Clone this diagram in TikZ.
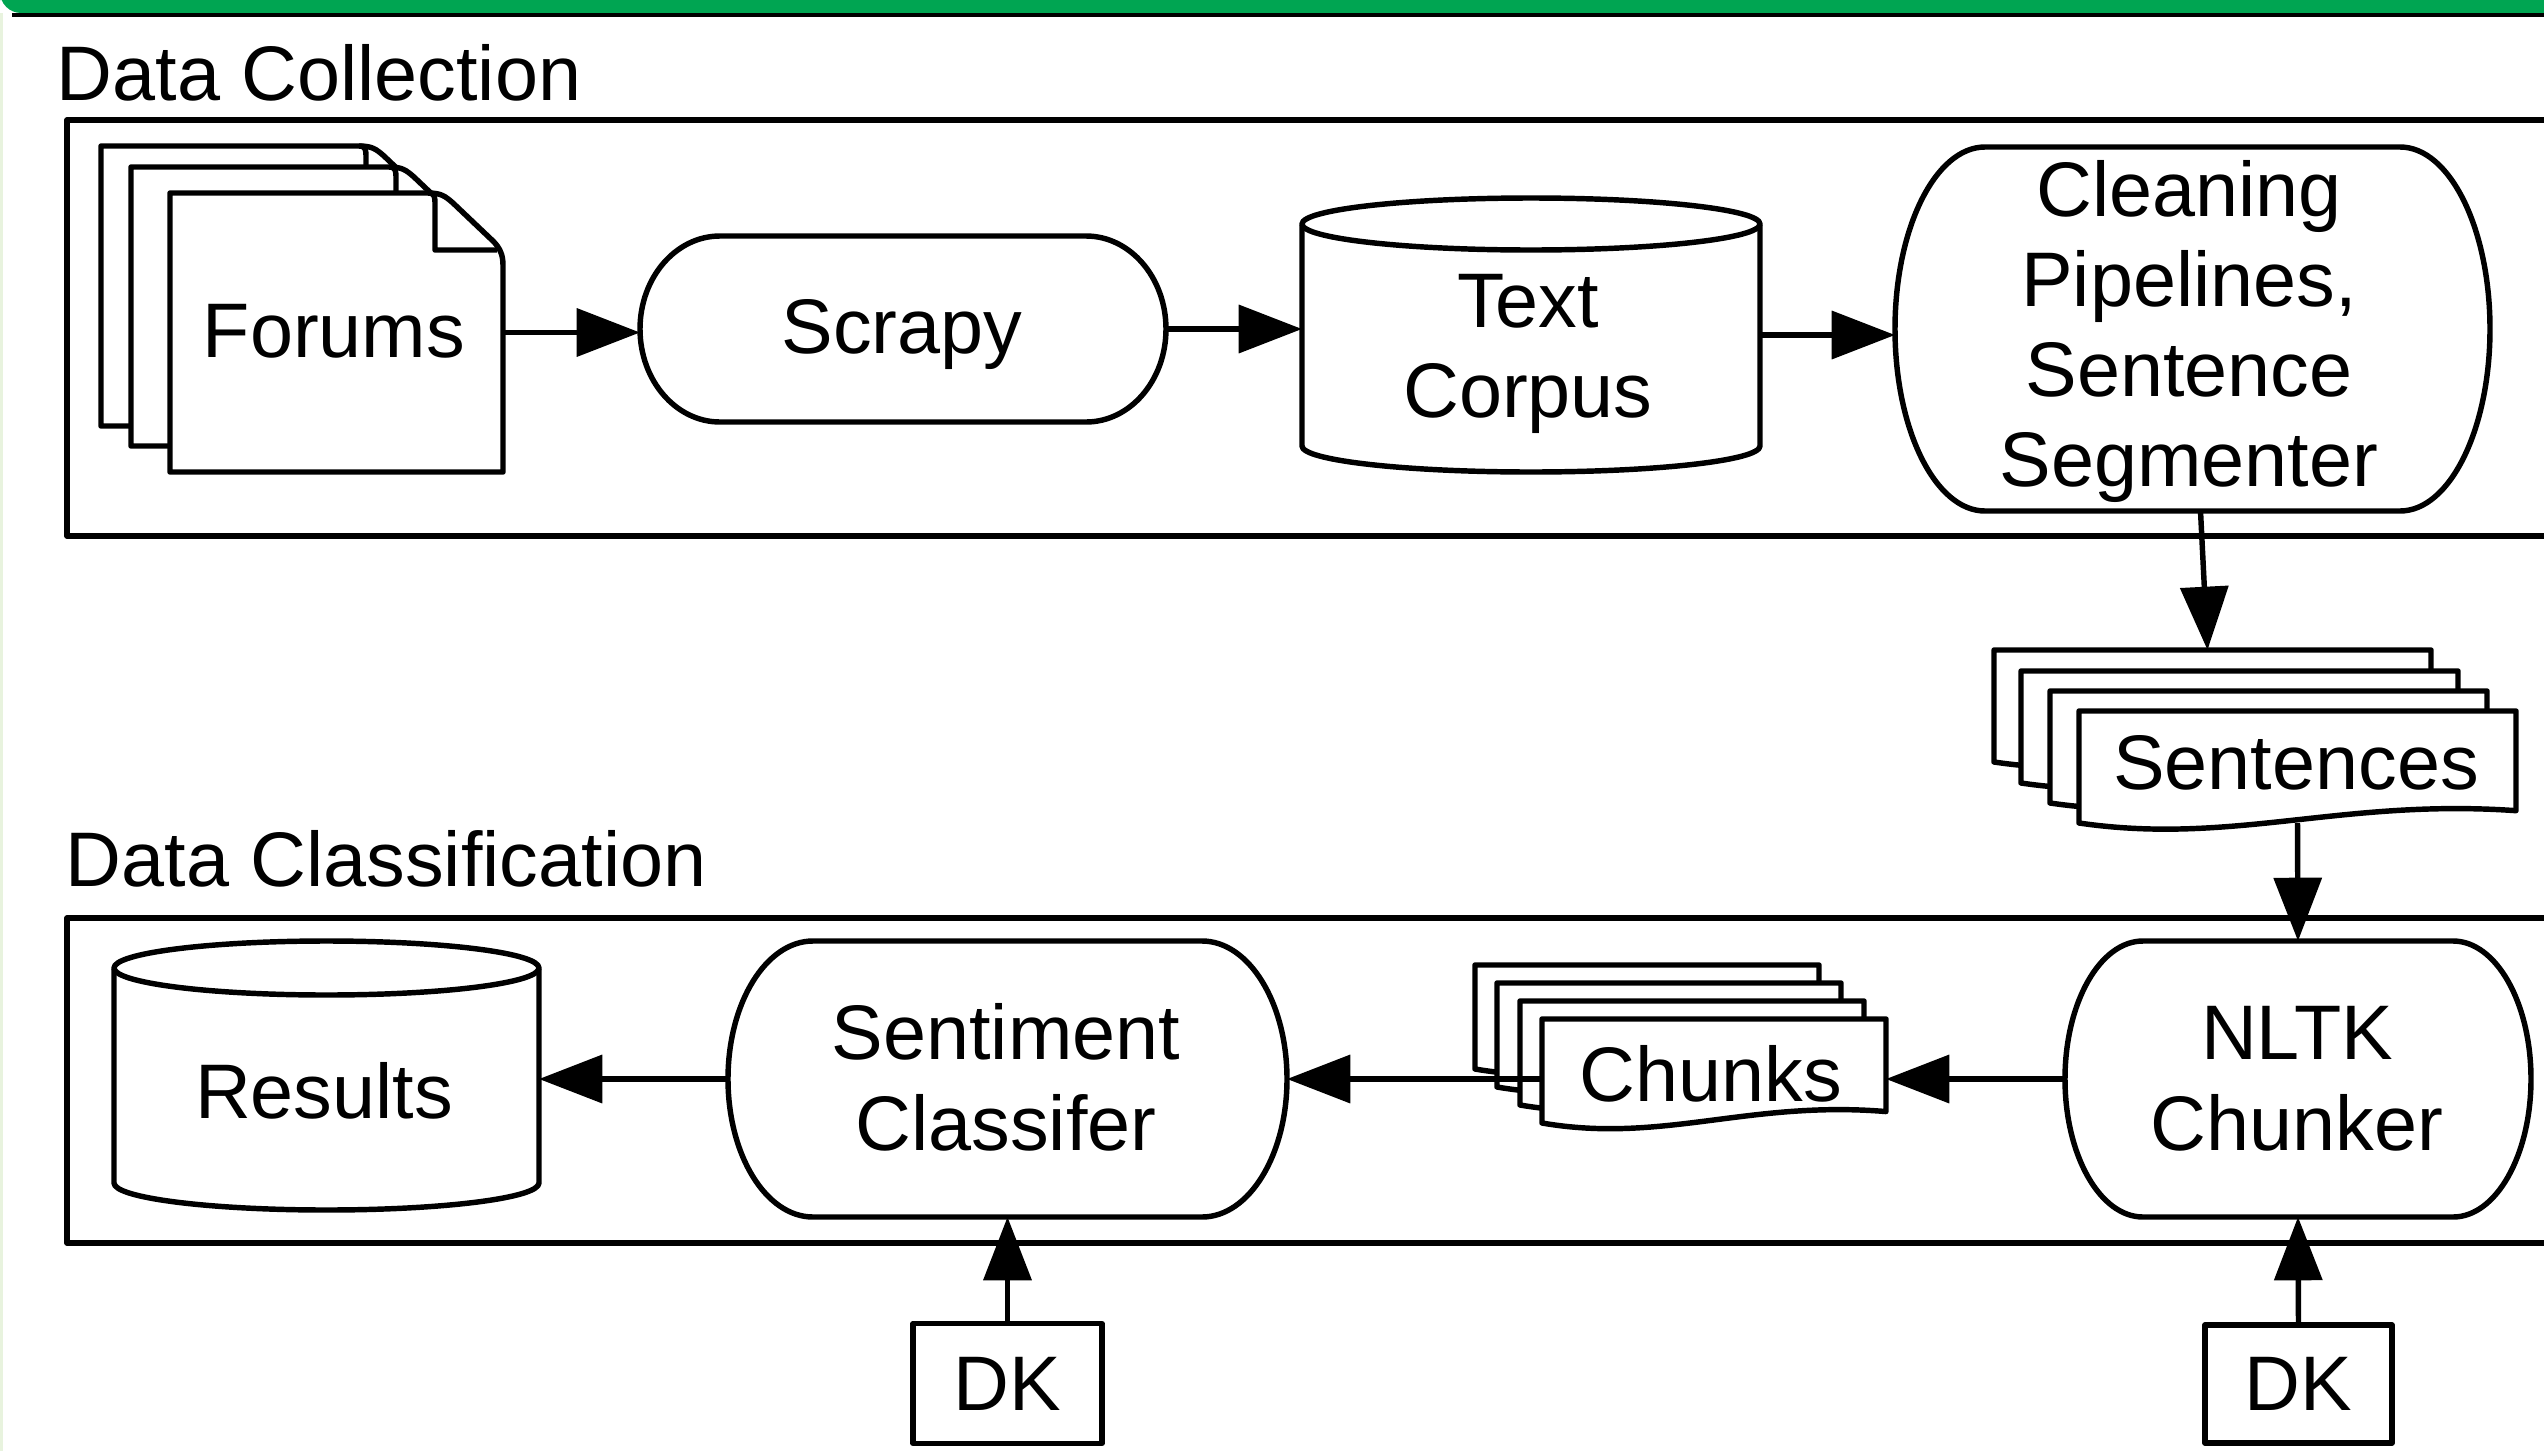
\documentclass[tikz,border=0pt]{standalone}
\usepackage{fontspec}
\setmainfont{Liberation Sans}
\usetikzlibrary{arrows.meta,calc}

\definecolor{barGreen}{RGB}{0,165,82}
\definecolor{edgeGreen}{RGB}{232,243,222}

\tikzset{
  outline/.style={draw=black, line width=1.55pt, line join=round, fill=white},
  area/.style 2 args={rectangle, inner sep=0pt, outer sep=0pt,
    minimum width=#1*0.01cm, minimum height=#2*0.01cm},
  lbl/.style={inner sep=0pt, anchor=base, font=\fontsize{22pt}{26pt}\selectfont},
  title/.style={lbl, anchor=base west},
  flow/.style={line width=1.55pt, -{Triangle[length=18pt,width=13.5pt]}},
}

% process box with elliptical ends: left, top, right, bottom, end radius
\newcommand\capsule[5]{%
  \pgfmathsetmacro\capry{(#4-#2)/2}%
  \path[outline] (#1+#5,#2) -- (#3-#5,#2)
    arc[start angle=90,end angle=-90,x radius=#5*0.01cm,y radius=\capry*0.01cm]
    -- (#1+#5,#4)
    arc[start angle=270,end angle=90,x radius=#5*0.01cm,y radius=\capry*0.01cm]
    -- cycle;}

% database cylinder: left, top, right, bottom, cap radius
\newcommand\cylinder[5]{%
  \pgfmathsetmacro\cylrx{(#3-#1)/2}%
  \path[outline] (#1,#2+#5) -- (#1,#4-#5)
    arc[start angle=180,end angle=360,x radius=\cylrx*0.01cm,y radius=#5*0.01cm]
    -- (#3,#2+#5)
    arc[start angle=0,end angle=180,x radius=\cylrx*0.01cm,y radius=#5*0.01cm]
    -- cycle;
  \draw[outline,fill=none] (#1,#2+#5)
    arc[start angle=180,end angle=360,x radius=\cylrx*0.01cm,y radius=#5*0.01cm];}

% page with a folded corner: left, top, width, height
\newcommand\foldeddoc[4]{%
  \path[outline] (#1,#2) -- (#1+#3-75,#2)
    .. controls (#1+#3-62,#2) and (#1+#3-58,#2+3) .. (#1+#3-50,#2+10)
    -- (#1+#3-10,#2+48)
    .. controls (#1+#3-3,#2+55) and (#1+#3,#2+62) .. (#1+#3,#2+72)
    -- (#1+#3,#2+#4) -- (#1,#2+#4) -- cycle;
  \draw[outline,fill=none] (#1+#3-75,#2)
    .. controls (#1+#3-68,#2) and (#1+#3-68,#2+4) .. (#1+#3-68,#2+12)
    -- (#1+#3-68,#2+57) -- (#1+#3-6,#2+57);}

% document with a wavy lower edge: left, top, width, height
\newcommand\wavedoc[4]{%
  \path[outline] (#1,#2) -- (#1+#3,#2) -- (#1+#3,#2+#4-0.11*#4)
    .. controls (#1+0.6*#3,#2+#4-0.22*#4) and (#1+0.35*#3,#2+#4+0.2*#4) ..
    (#1,#2+#4) -- cycle;}

\begin{document}
\begin{tikzpicture}[x=0.01cm,y=-0.01cm]
\useasboundingbox (0,0) rectangle (2544,1451);
\clip (0,0) rectangle (2544,1451);

% slide frame
\fill[barGreen, rounded corners=6] (0,-20) rectangle (2564,13);
\fill[black] (12,13) rectangle (2544,17);
\fill[edgeGreen] (0,13) rectangle (3,1451);

% ---------------- Data Collection ----------------
\draw[outline, fill=none] (67,120) rectangle (2620,536);
\node[title] (hdrCollect) at (56,100) {Data Collection};

% Forums
\foldeddoc{101}{146}{333}{280}
\foldeddoc{131}{167}{333}{279}
\foldeddoc{170}{193}{333}{279}
\node[area={333}{279}] (forums) at (336.5,332.5) {};
\node[lbl] (forumsText) at (334,357) {Forums};

% Scrapy
\capsule{640}{236}{1166}{422}{80}
\node[area={526}{186}] (scrapy) at (903,329) {};
\node[lbl] (scrapyText) at (902,353) {Scrapy};

% Text Corpus
\cylinder{1302}{198}{1760}{472}{26}
\node[area={458}{274}] (corpus) at (1531,335) {};
\node[lbl] (corpusTextA) at (1528,327) {Text};
\node[lbl] (corpusTextB) at (1528,417) {Corpus};

% Cleaning Pipelines, Sentence Segmenter
\capsule{1895}{147}{2490}{511}{90}
\node[area={595}{364}] (clean) at (2192.5,329) {};
\node[lbl] (cleanTextA) at (2189,216) {Cleaning};
\node[lbl] (cleanTextB) at (2189,306) {Pipelines,};
\node[lbl] (cleanTextC) at (2189,396) {Sentence};
\node[lbl] (cleanTextD) at (2189,486) {Segmenter};

% Sentences
\wavedoc{1994}{650}{437}{112}
\node[area={437}{112}] (sback) at (2212.5,706) {};
\wavedoc{2021}{671}{437}{112}
\wavedoc{2050}{691}{437}{112}
\wavedoc{2079}{711}{437}{112}
\node[area={437}{112}] (sentences) at (2297.5,767) {};
\node[lbl] (sentencesText) at (2296,789) {Sentences};

% ---------------- Data Classification ----------------
\draw[outline, fill=none] (67,918) rectangle (2620,1243);
\node[title] (hdrClassify) at (65,886) {Data Classification};

% Results
\cylinder{114}{941}{539}{1210}{27}
\node[area={425}{269}] (results) at (326.5,1075.5) {};
\node[lbl] (resultsText) at (324,1118) {Results};

% Sentiment Classifer
\capsule{728}{941}{1287}{1217}{85}
\node[area={559}{276}] (senti) at (1007.5,1079) {};
\node[lbl] (sentiTextA) at (1006,1059) {Sentiment};
\node[lbl] (sentiTextB) at (1006,1150) {Classifer};

% Chunks
\wavedoc{1475}{965}{344}{104}
\wavedoc{1497}{983}{344}{104}
\wavedoc{1520}{1001}{344}{104}
\wavedoc{1542}{1019}{344}{104}
\node[area={344}{104}] (chunks) at (1714,1071) {};
\node[lbl] (chunksText) at (1711,1101) {Chunks};

% NLTK Chunker
\capsule{2065}{941}{2531}{1217}{78}
\node[area={466}{276}] (nltk) at (2298,1079) {};
\node[lbl] (nltkTextA) at (2297,1059) {NLTK};
\node[lbl] (nltkTextB) at (2297,1150) {Chunker};

% domain knowledge inputs
\node[outline, area={189}{120}, font=\fontsize{22pt}{26pt}\selectfont] (dkA) at (1007.5,1383.5) {DK};
\node[outline, area={187}{118}, font=\fontsize{22pt}{26pt}\selectfont] (dkB) at (2298.5,1384) {DK};

% ---------------- connectors ----------------
\draw[flow] (forums.east) -- (forums.east -| scrapy.west);
\draw[flow] (scrapy.east) -- (scrapy.east -| corpus.west);
\draw[flow] (corpus.east) -- (corpus.east -| clean.west);
\draw[flow] ([xshift=0.08cm]clean.south) -- ([xshift=-0.05cm]sback.north);
\draw[flow] (sentences.south) -- (nltk.north);
\draw[flow] (nltk.west) -- (nltk.west -| chunks.east);
\draw[flow] (chunks.west |- nltk.west) -- (senti.east |- nltk.west);
\draw[flow] (senti.west) -- (senti.west -| results.east);
\draw[flow] (dkA.north) -- (senti.south);
\draw[flow] (dkB.north) -- (nltk.south);
\end{tikzpicture}
\end{document}
